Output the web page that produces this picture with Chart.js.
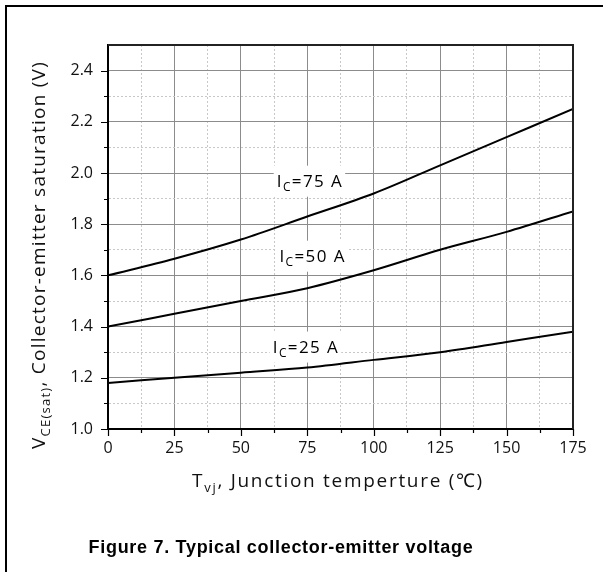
<!DOCTYPE html>
<html>
<head>
<meta charset="utf-8">
<script src="https://cdn.jsdelivr.net/npm/chart.js@4.4.0/dist/chart.umd.min.js"></script>
<style>
  html, body { margin: 0; padding: 0; background: #fff; }
  #wrap { width: 603px; height: 572px; position: relative; }
</style>
</head>
<body>
<div id="wrap"><canvas id="vceChart"></canvas></div>
<script>
// Data
const temps = [0, 25, 50, 75, 100, 125, 150, 175];
const vce75 = [1.60, 1.665, 1.74, 1.83, 1.92, 2.03, 2.14, 2.25];
const vce50 = [1.40, 1.45, 1.50, 1.55, 1.62, 1.70, 1.77, 1.85];
const vce25 = [1.18, 1.20, 1.22, 1.24, 1.27, 1.30, 1.34, 1.38];

const curveNames = ['75', '50', '25'];
const curveLabelX = [63.5, 64.5, 62];
const curveLabelY = [1.97, 1.677, 1.322];

const FONT = '"Open Sans", "Noto Sans", sans-serif';

function toPoints(ys) {
    return temps.map((t, i) => ({ x: t, y: ys[i] }));
}

// text made of runs, some of them subscript
function runsWidth(ctx, runs, size, subSize, ls) {
    let w = 0;
    ctx.letterSpacing = ls + 'px';
    runs.forEach(r => {
        ctx.font = (r.sub ? subSize : size) + 'px ' + FONT;
        w += ctx.measureText(r.t).width;
    });
    return w;
}

function drawRuns(ctx, runs, x, y, size, subSize, ls, align) {
    const w = runsWidth(ctx, runs, size, subSize, ls);
    let cx = align === 'left' ? x : x - w / 2;
    ctx.textAlign = 'left';
    ctx.textBaseline = 'alphabetic';
    ctx.letterSpacing = ls + 'px';
    runs.forEach(r => {
        ctx.font = (r.sub ? subSize : size) + 'px ' + FONT;
        ctx.fillText(r.t, cx, r.sub ? y + size * 0.28 : y);
        cx += ctx.measureText(r.t).width;
    });
    ctx.letterSpacing = '0px';
    return w;
}

const isMajorX = v => Math.abs(v % 25) < 1e-6;
const isMajorY = v => Math.round(v * 10) % 2 === 0;

const decorPlugin = {
    id: 'decor',
    beforeDraw(chart) {
        const ctx = chart.ctx;
        ctx.save();
        ctx.fillStyle = '#fff';
        ctx.fillRect(0, 0, chart.width, chart.height);
        ctx.restore();
    },
    afterDatasetsDraw(chart) {
        const ctx = chart.ctx;
        const xs = chart.scales.x, ys = chart.scales.y;
        ctx.save();
        curveNames.forEach((n, i) => {
            const px = xs.getPixelForValue(curveLabelX[i]);
            const py = ys.getPixelForValue(curveLabelY[i]);
            const runs = [{ t: 'I' }, { t: 'C', sub: true }, { t: '=' + n + ' A' }];
            const w = runsWidth(ctx, runs, 17, 12, 1.4);
            ctx.fillStyle = '#fff';
            ctx.fillRect(px - 3, py - 15, w + 5, 31);
            ctx.fillStyle = '#000';
            drawRuns(ctx, runs, px, py + 6, 17, 12, 1.4, 'left');
        });
        ctx.restore();
    },
    afterDraw(chart) {
        const ctx = chart.ctx;
        const a = chart.chartArea;
        const xs = chart.scales.x, ys = chart.scales.y;
        ctx.save();

        // outer frame (left and top only)
        ctx.strokeStyle = '#000';
        ctx.lineWidth = 2;
        ctx.beginPath();
        ctx.moveTo(6, chart.height);
        ctx.lineTo(6, 6);
        ctx.lineTo(chart.width, 6);
        ctx.stroke();

        // top and right of the plot box
        ctx.strokeStyle = '#222';
        ctx.beginPath();
        ctx.moveTo(a.left, a.top);
        ctx.lineTo(a.right, a.top);
        ctx.lineTo(a.right, a.bottom);
        ctx.stroke();

        // outward tick marks
        ctx.strokeStyle = '#000';
        ctx.lineWidth = 1.2;
        ctx.beginPath();
        xs.ticks.forEach(t => {
            const p = Math.round(xs.getPixelForValue(t.value)) + 0.5;
            const len = isMajorX(t.value) ? 7 : 4;
            ctx.moveTo(p, a.bottom);
            ctx.lineTo(p, a.bottom + len);
        });
        ys.ticks.forEach(t => {
            if (t.value >= 2.5) return;
            const p = Math.round(ys.getPixelForValue(t.value)) + 0.5;
            const len = isMajorY(t.value) ? 7 : 4;
            ctx.moveTo(a.left, p);
            ctx.lineTo(a.left - len, p);
        });
        ctx.stroke();

        ctx.fillStyle = '#111';
        // x axis title
        drawRuns(ctx, [{ t: 'T' }, { t: 'vj', sub: true }, { t: ', Junction temperture (\u2103)' }],
            338, 487, 19, 13, 1.7);

        // y axis title, rotated
        ctx.save();
        ctx.translate(45, 255);
        ctx.rotate(-Math.PI / 2);
        drawRuns(ctx, [{ t: 'V' }, { t: 'CE(sat)', sub: true }, { t: ', Collector-emitter saturation (V)' }],
            0, 0, 19, 13, 1.25);
        ctx.restore();

        // figure caption
        ctx.font = 'bold 18px "Liberation Sans", Arial, sans-serif';
        ctx.letterSpacing = '0.7px';
        ctx.textAlign = 'center';
        ctx.textBaseline = 'alphabetic';
        ctx.fillStyle = '#000';
        ctx.fillText('Figure 7. Typical collector-emitter voltage', 281, 553);
        ctx.restore();
    }
};

const lineStyle = {
    borderColor: '#000',
    borderWidth: 2,
    pointRadius: 0,
    fill: false,
    tension: 0.4,
    cubicInterpolationMode: 'monotone'
};

new Chart(document.getElementById('vceChart'), {
    type: 'line',
    data: {
        datasets: [
            Object.assign({ label: 'IC=75 A', data: toPoints(vce75) }, lineStyle),
            Object.assign({ label: 'IC=50 A', data: toPoints(vce50) }, lineStyle),
            Object.assign({ label: 'IC=25 A', data: toPoints(vce25) }, lineStyle)
        ]
    },
    options: {
        responsive: true,
        maintainAspectRatio: false,
        animation: false,
        layout: { padding: { top: 45, right: 30, left: 0, bottom: 0 } },
        plugins: {
            legend: { display: false },
            tooltip: { enabled: false }
        },
        scales: {
            x: {
                type: 'linear',
                min: 0,
                max: 175,
                afterFit: s => { s.height = 143; },
                ticks: {
                    stepSize: 12.5,
                    padding: 10,
                    color: '#111',
                    font: { family: FONT, size: 16 },
                    maxRotation: 0,
                    autoSkip: false,
                    callback: v => isMajorX(v) ? String(v) : ''
                },
                grid: {
                    drawTicks: false,
                    lineWidth: 1,
                    color: c => isMajorX(c.tick.value) ? '#8c8c8c' : '#c8c8c8'
                },
                border: {
                    color: '#000',
                    width: 2,
                    dash: c => (c.tick && !isMajorX(c.tick.value)) ? [2, 2] : []
                }
            },
            y: {
                type: 'linear',
                min: 1.0,
                max: 2.5,
                afterFit: s => { s.width = 108; },
                ticks: {
                    stepSize: 0.1,
                    padding: 15,
                    color: '#111',
                    font: { family: FONT, size: 16 },
                    autoSkip: false,
                    callback: v => (isMajorY(v) && v < 2.45) ? v.toFixed(1) : ''
                },
                grid: {
                    drawTicks: false,
                    lineWidth: 1,
                    color: c => isMajorY(c.tick.value) ? '#8c8c8c' : '#c8c8c8'
                },
                border: {
                    color: '#000',
                    width: 2,
                    dash: c => (c.tick && !isMajorY(c.tick.value)) ? [2, 2] : []
                }
            }
        }
    },
    plugins: [decorPlugin]
});
</script>
</body>
</html>
